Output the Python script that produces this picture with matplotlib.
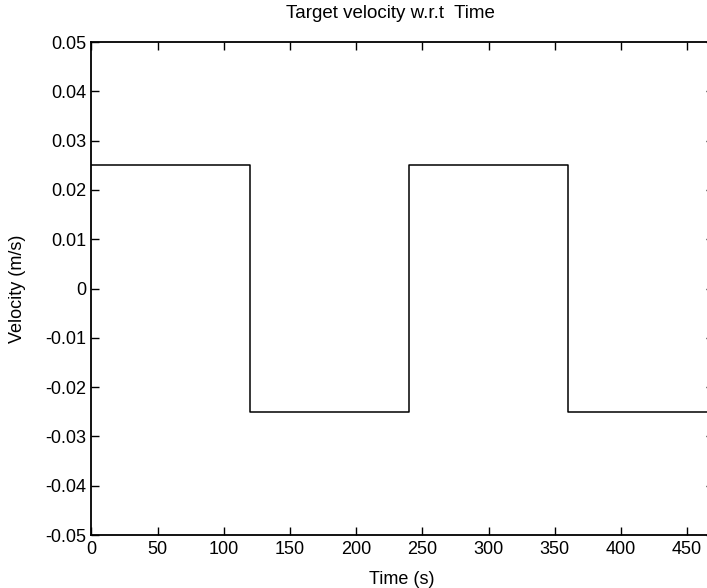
"""Target velocity step profile, redrawn in a MATLAB-like style."""

import matplotlib

matplotlib.use("Agg")
import matplotlib.pyplot as plt

# step edges (s) and velocity held on each interval (m/s)
time_edges = [0, 120, 240, 360, 480]
velocity = [0.025, -0.025, 0.025, -0.025]

x_ticks = [0, 50, 100, 150, 200, 250, 300, 350, 400, 450]
y_ticks = [0.05, 0.04, 0.03, 0.02, 0.01, 0, -0.01, -0.02, -0.03, -0.04, -0.05]
y_tick_labels = ["0.05", "0.04", "0.03", "0.02", "0.01", "0",
                 "-0.01", "-0.02", "-0.03", "-0.04", "-0.05"]

plt.rcParams["font.family"] = ["Liberation Sans Narrow", "Liberation Sans", "DejaVu Sans"]
plt.rcParams["axes.unicode_minus"] = False

fig = plt.figure(figsize=(7.07, 5.88), dpi=100)
ax = fig.add_axes([0.1294, 0.0901, 0.880, 0.8384])

ax.step(time_edges, velocity + [velocity[-1]], where="post", color="black", linewidth=1.1)

ax.set_xlim(0, 470)
ax.set_ylim(-0.05, 0.05)
ax.set_xticks(x_ticks)
ax.set_yticks(y_ticks)
ax.set_yticklabels(y_tick_labels)
ax.tick_params(direction="in", length=6, width=1, top=True, right=True,
               labelsize=13, pad=4, colors="black")
for spine in ax.spines.values():
    spine.set_linewidth(1.3)
    spine.set_color("black")

ax.set_title("Target velocity w.r.t  Time", fontsize=13.5, x=0.48, pad=17)
ax.set_xlabel("Time (s)", fontsize=13)
ax.xaxis.set_label_coords(0.498, -0.072)
ax.set_ylabel("Velocity (m/s)", fontsize=13)
ax.yaxis.set_label_coords(-0.105, 0.5)

fig.savefig("out.png", dpi=100)
